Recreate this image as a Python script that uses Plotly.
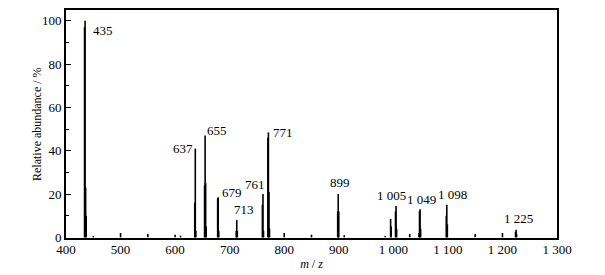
import plotly.graph_objects as go

# peak list (m/z, relative abundance %)
mz = [434, 435, 436, 437, 450, 500, 550, 600, 610,
      636, 637, 638, 654, 655, 656, 657, 678, 679, 680,
      712, 713, 714, 760, 761, 762, 770, 771, 772, 773,
      800, 850, 898, 899, 900, 910, 985, 995, 996, 1004, 1005, 1006,
      1030, 1047, 1048, 1049, 1050, 1097, 1098, 1099, 1150, 1200, 1224, 1225, 1226]
abund = [97, 100, 23, 10, 0.6, 2, 1.5, 1.2, 0.8,
         16, 41, 3, 24, 47, 25, 5, 18, 18.5, 3,
         3, 8, 3, 15, 20, 3, 46, 48.5, 21, 4,
         2, 1.2, 12, 20, 12, 1, 0.6, 8.5, 5, 12, 14.5, 4,
         1.5, 2, 12, 13, 4, 10, 15, 6, 1.5, 2, 2.5, 3.5, 1.5]

# peak labels and where their text centres sit
labels = ['435', '637', '655', '679', '713', '761', '771',
          '899', '1 005', '1 049', '1 098', '1 225']
label_x = [468, 614, 677, 704, 727, 747, 798, 903, 997, 1052, 1109, 1230]
label_y = [95.4, 41, 49.2, 20.5, 12.7, 24.2, 48.4, 25.2, 19.3, 17.3, 20, 8.9]

xticks = [400, 500, 600, 700, 800, 900, 1000, 1100, 1200, 1300]
xticktext = ['400', '500', '600', '700', '800', '900', '1 000', '1 100', '1 200', '1 300']

xs, ys = [], []
for m, a in zip(mz, abund):
    xs += [m, m, None]
    ys += [0, a, None]

fig = go.Figure()
fig.add_trace(go.Scatter(x=xs, y=ys, mode='lines',
                         line=dict(color='black', width=1.6),
                         showlegend=False, hoverinfo='skip'))

for t, x, y in zip(labels, label_x, label_y):
    fig.add_annotation(x=x, y=y, text=t, showarrow=False,
                       xanchor='center', yanchor='middle',
                       font=dict(size=13, color='black'))

# y title as an annotation so it can sit closer to the tick labels
fig.add_annotation(xref='paper', yref='paper', x=-0.059, y=0.5, textangle=-90,
                   text='Relative abundance / %', showarrow=False,
                   xanchor='center', yanchor='middle', font=dict(size=12))

# page body has an 8px margin, so the figure is shrunk to fit the window
fig.update_layout(
    width=597, height=267,
    margin=dict(l=58, r=48, t=2, b=37),
    paper_bgcolor='white', plot_bgcolor='white',
    font=dict(family='Times New Roman', size=13, color='black'),
    xaxis=dict(range=[400, 1300], tickvals=xticks, ticktext=xticktext,
               showline=True, linecolor='black', linewidth=1.8, mirror=True,
               ticks='', ticklen=0, ticklabelstandoff=-2,
               showgrid=False, zeroline=False, automargin=False,
               title=dict(text='<i>m</i> / <i>z</i>', standoff=4, font=dict(size=12))),
    yaxis=dict(range=[-0.3, 105], tickvals=[0, 20, 40, 60, 80, 100],
               showline=True, linecolor='black', linewidth=1.8, mirror=True,
               ticks='inside', ticklen=5, tickwidth=1.2, tickcolor='black',
               minor=dict(tickvals=[10, 30, 50, 70, 90], ticks='inside', ticklen=3,
                          tickcolor='black'),
               showgrid=False, zeroline=False, automargin=False),
)

fig.write_html("out.html")
